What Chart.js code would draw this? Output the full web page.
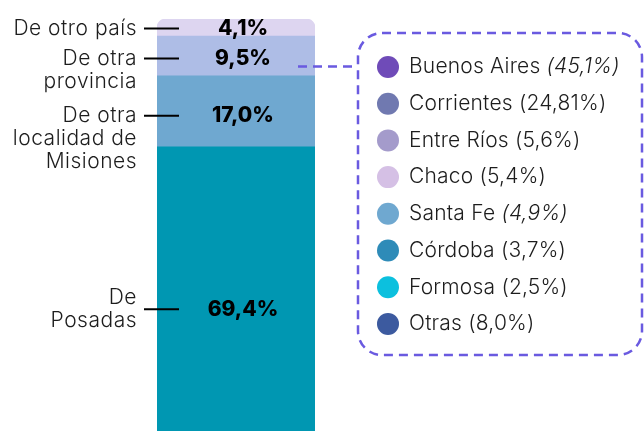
<!DOCTYPE html>
<html lang="es">
<head>
<meta charset="utf-8">
<script src="https://cdn.jsdelivr.net/npm/chart.js@4/dist/chart.umd.min.js"></script>
<style>
  html, body { margin: 0; padding: 0; background: #fff; overflow: hidden; }
  #grafica { display: block; }
</style>
</head>
<body>
<canvas id="grafica" width="644" height="440"></canvas>
<script>
// Procedencia de los visitantes (de abajo hacia arriba en la barra)
const origenes = ["De Posadas", "De otra localidad de Misiones", "De otra provincia", "De otro país"];
const origenLineas = [["De", "Posadas"], ["De otra", "localidad de", "Misiones"], ["De otra", "provincia"], ["De otro país"]];
const porcentajes = [69.4, 17.0, 9.5, 4.1];
const coloresOrigen = ["#0097b2", "#6fa8d0", "#aebde6", "#ddd5f0"];

// Detalle de "De otra provincia"
const provincias = ["Buenos Aires", "Corrientes", "Entre Ríos", "Chaco", "Santa Fe", "Córdoba", "Formosa", "Otras"];
const provinciaValores = [45.1, 24.81, 5.6, 5.4, 4.9, 3.7, 2.5, 8.0];
const coloresProvincia = ["#6f4bb8", "#7079b0", "#a49bcb", "#d5c0e5", "#6fa8d0", "#2e8bb8", "#0cc0de", "#3c5a9f"];
const provinciasCursiva = ["Buenos Aires", "Santa Fe"];

function formatear(v) {
  const unDecimal = Math.abs(Math.round(v * 10) - v * 10) < 1e-6;
  return v.toFixed(unDecimal ? 1 : 2).replace(".", ",");
}

const TEXTO = "#1d1d1d";
const FUENTE = "Inter, 'DejaVu Sans', sans-serif";

const etiquetasPlugin = {
  id: "etiquetas",
  afterDatasetsDraw(chart) {
    const ctx = chart.ctx;
    const centros = [];
    ctx.save();
    chart.data.datasets.forEach((ds, i) => {
      const barra = chart.getDatasetMeta(i).data[0];
      const arriba = Math.min(barra.y, barra.base);
      const abajo = Math.max(barra.y, barra.base);
      const y = arriba + (abajo - arriba) * 0.56;
      centros[i] = y;

      // valor dentro de la barra
      ctx.fillStyle = "#000";
      ctx.font = "800 21px " + FUENTE;
      ctx.letterSpacing = "0px";
      ctx.textAlign = "center";
      ctx.textBaseline = "middle";
      ctx.fillText(formatear(porcentajes[i]) + "%", barra.x + 7, y);

      // línea guía
      ctx.strokeStyle = "#000";
      ctx.lineWidth = 2;
      ctx.beginPath();
      ctx.moveTo(144, y);
      ctx.lineTo(179, y);
      ctx.stroke();

      // nombre a la izquierda
      const lineas = origenLineas[i];
      const salto = 23;
      const inicio = lineas.length === 2 && i === 0 ? y - salto / 2 : y;
      ctx.font = "300 21px " + FUENTE;
      ctx.letterSpacing = "0.5px";
      ctx.fillStyle = TEXTO;
      ctx.textAlign = "right";
      lineas.forEach((t, k) => ctx.fillText(t, 137, inicio + k * salto));
    });

    // conector punteado hacia el detalle por provincia
    const yProv = centros[2] + 8;
    ctx.strokeStyle = "#6a5ae0";
    ctx.lineWidth = 2.5;
    ctx.setLineDash([9, 6]);
    ctx.beginPath();
    ctx.moveTo(298, yProv);
    ctx.lineTo(358, yProv);
    ctx.stroke();

    ctx.beginPath();
    ctx.roundRect(358, 33, 284, 322, 24);
    ctx.stroke();
    ctx.setLineDash([]);

    // lista de provincias
    ctx.textAlign = "left";
    ctx.textBaseline = "middle";
    ctx.letterSpacing = "0.2px";
    provincias.forEach((p, i) => {
      const y = 67 + i * 36.7;
      ctx.fillStyle = coloresProvincia[i];
      ctx.beginPath();
      ctx.arc(388, y, 11, 0, Math.PI * 2);
      ctx.fill();

      ctx.fillStyle = TEXTO;
      ctx.font = "300 21px " + FUENTE;
      const valor = "(" + formatear(provinciaValores[i]) + "%)";
      if (provinciasCursiva.includes(p)) {
        const nombre = p + " ";
        ctx.fillText(nombre, 409, y);
        const w = ctx.measureText(nombre).width;
        ctx.font = "italic 300 21px " + FUENTE;
        ctx.fillText(valor, 409 + w, y);
      } else {
        ctx.fillText(p + " " + valor, 409, y);
      }
    });
    ctx.restore();
  }
};

new Chart(document.getElementById("grafica"), {
  type: "bar",
  data: {
    labels: ["Procedencia"],
    datasets: origenes.map((o, i) => ({
      label: o,
      data: [porcentajes[i]],
      backgroundColor: coloresOrigen[i],
      borderWidth: 0,
      borderSkipped: false,
      borderRadius: i === origenes.length - 1
        ? { topLeft: 9, topRight: 9, bottomLeft: 0, bottomRight: 0 }
        : 0,
      barPercentage: 1,
      categoryPercentage: 1
    }))
  },
  options: {
    responsive: false,
    animation: false,
    layout: { padding: { left: 157, right: 329, top: 19, bottom: 3 } },
    plugins: { legend: { display: false }, tooltip: { enabled: false } },
    scales: {
      x: { stacked: true, display: false },
      y: { stacked: true, display: false, min: 0, max: 100 }
    }
  },
  plugins: [etiquetasPlugin]
});
</script>
</body>
</html>
